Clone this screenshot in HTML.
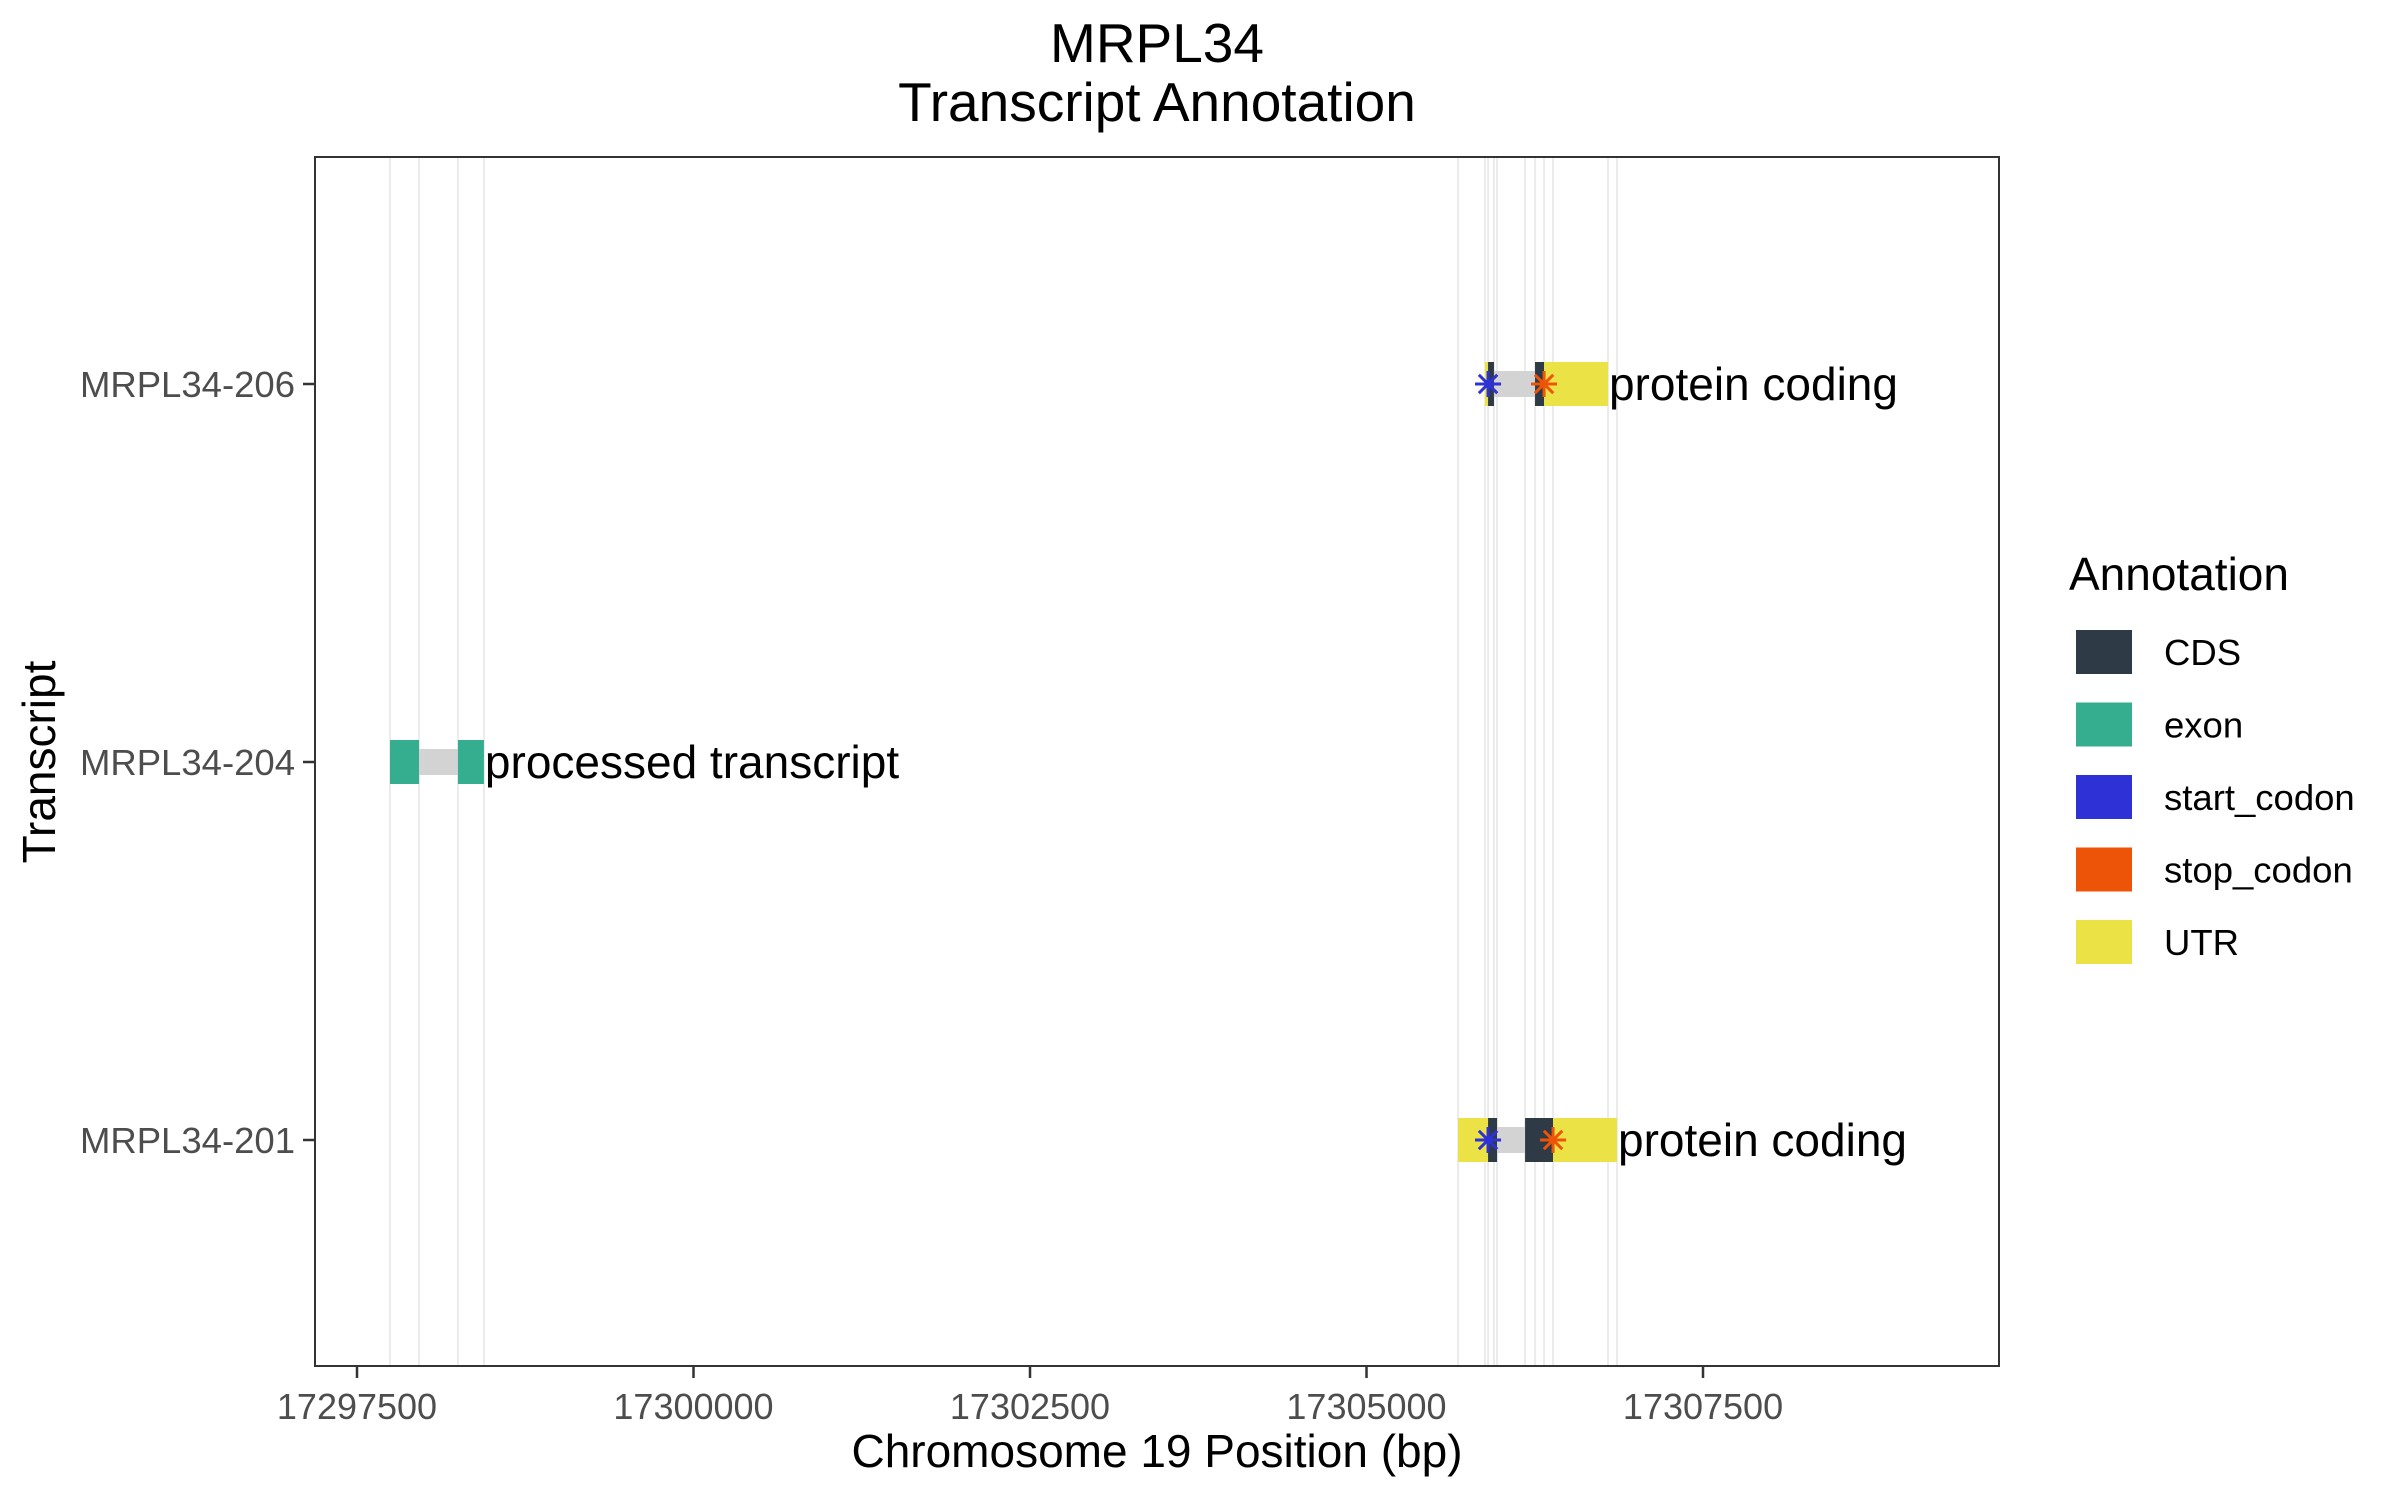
<!DOCTYPE html>
<html><head><meta charset="utf-8"><style>
html,body{margin:0;padding:0;background:#fff;}
svg{display:block;font-family:"Liberation Sans",sans-serif;}
</style></head><body>
<svg id="chart" width="2400" height="1500" viewBox="0 0 2400 1500" xmlns="http://www.w3.org/2000/svg">
<text x="1157" y="62" font-size="55" text-anchor="middle">MRPL34</text>
<text x="1157" y="121" font-size="55" text-anchor="middle">Transcript Annotation</text>
<g id="grid"></g>
<g id="marks"></g>
<rect x="315" y="157" width="1684" height="1209" fill="none" stroke="#333" stroke-width="2"/>
<g id="xaxis"></g>
<g id="yaxis"></g>
<text x="1157" y="1467" font-size="46" text-anchor="middle">Chromosome 19 Position (bp)</text>
<text x="55" y="762" font-size="46" text-anchor="middle" transform="rotate(-90 55 762)">Transcript</text>
<g id="legend">
<text x="2069" y="590" font-size="46">Annotation</text>
</g>
</svg>
<script>
const transcripts = ["MRPL34-201","MRPL34-204","MRPL34-206"];
const biotypes = ["protein coding","processed transcript","protein coding"];
const fTx    = [0,0,0,0,0, 1,1,1, 2,2,2,2,2];
const fType  = ["UTR","CDS","intron","CDS","UTR", "exon","intron","exon", "UTR","CDS","intron","CDS","UTR"];
const fStart = [17305680,17305903,17305970,17306178,17306386, 17297745,17297961,17298250, 17305880,17305903,17305947,17306252,17306319];
const fEnd   = [17305903,17305970,17306178,17306386,17306861, 17297961,17298250,17298443, 17305903,17305947,17306252,17306319,17306794];
const startCodonTx = [0,2];
const startCodonPos = [17305903,17305903];
const stopCodonTx = [0,2];
const stopCodonPos = [17306386,17306319];
const xTicks = [17297500,17300000,17302500,17305000,17307500];
const legendLabels = ["CDS","exon","start_codon","stop_codon","UTR"];

const colors = {CDS:"#2E3A45",exon:"#35AE8F",start_codon:"#2E31D6",stop_codon:"#EE5407",UTR:"#EBE246",intron:"#D3D3D3"};
const NS="http://www.w3.org/2000/svg";
const X0=315,X1=1999,D0=17297188,D1=17309699;
function x(v){return X0+(v-D0)/(D1-D0)*(X1-X0);}
function y(i){return 1140-i*378;}
function mk(tag,attrs,parent){const e=document.createElementNS(NS,tag);for(const k in attrs)e.setAttribute(k,attrs[k]);parent.appendChild(e);return e;}
const grid=document.getElementById('grid'),marks=document.getElementById('marks');
const seen=new Set();
fStart.concat(fEnd).forEach(v=>{if(seen.has(v))return;seen.add(v);
 const l=mk('line',{x1:x(v),x2:x(v),y1:157,y2:1366,stroke:"#ebebeb","stroke-width":2},grid);
 
 
});
for(let i=0;i<fTx.length;i++){
 const t=fType[i],h=t==="intron"?26:44,yc=y(fTx[i]);
 const r=mk('rect',{x:x(fStart[i]),y:yc-h/2,width:x(fEnd[i])-x(fStart[i]),height:h,fill:colors[t]},marks);
 
 
}
function star(cx,cy,col,name){
 const g=mk('g',{stroke:col,"stroke-width":3},marks);
 
 
 const r=13;
 for(let a=0;a<4;a++){const th=a*Math.PI/4;mk('line',{x1:cx-r*Math.cos(th),y1:cy-r*Math.sin(th),x2:cx+r*Math.cos(th),y2:cy+r*Math.sin(th)},g);}
}
startCodonTx.forEach((t,i)=>star(x(startCodonPos[i]),y(t),colors.start_codon,'start-codon-marker'));
stopCodonTx.forEach((t,i)=>star(x(stopCodonPos[i]),y(t),colors.stop_codon,'stop-codon-marker'));
transcripts.forEach((n,i)=>{
 let mx=0;fTx.forEach((t,j)=>{if(t===i&&fEnd[j]>mx)mx=fEnd[j];});
 const tx=mk('text',{x:x(mx)+1,y:y(i)+16,"font-size":46},marks);tx.textContent=biotypes[i];
 
 
});
const xa=document.getElementById('xaxis');
xTicks.forEach(v=>{
 const l=mk('line',{x1:x(v),x2:x(v),y1:1366,y2:1378,stroke:"#333","stroke-width":2.5},xa);
 
 
 const t=mk('text',{x:x(v),y:1419,"font-size":36,fill:"#4d4d4d","text-anchor":"middle"},xa);t.textContent=v;
 
 
});
const ya=document.getElementById('yaxis');
transcripts.forEach((n,i)=>{
 const l=mk('line',{x1:303,x2:315,y1:y(i),y2:y(i),stroke:"#333","stroke-width":2.5},ya);
 
 
 const t=mk('text',{x:295,y:y(i)+13,"font-size":36.5,fill:"#4d4d4d","text-anchor":"end"},ya);t.textContent=n;
 
 
});
const lg=document.getElementById('legend');
legendLabels.forEach((n,i)=>{
 const cy=652+i*72.5;
 const r=mk('rect',{x:2076,y:cy-22,width:56,height:44,fill:colors[n]},lg);
 
 
 const t=mk('text',{x:2164,y:cy+13,"font-size":36.5},lg);t.textContent=n;
 
 
});
</script>
</body></html>
